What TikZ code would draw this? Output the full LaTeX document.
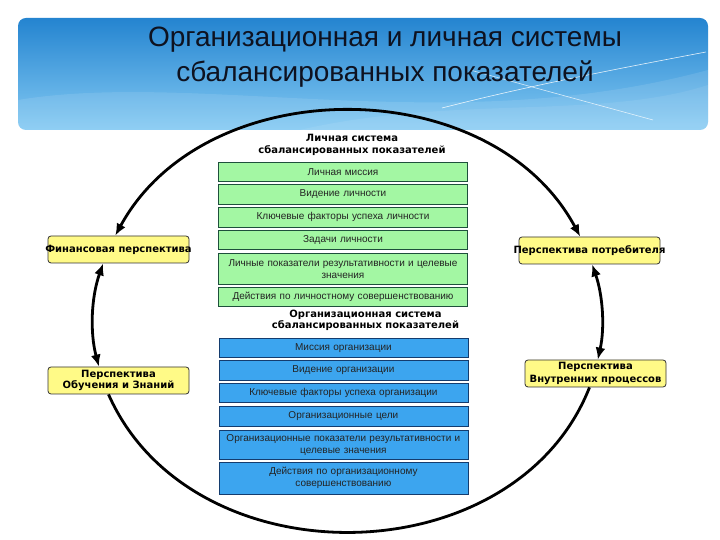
\documentclass[tikz,border=0pt]{standalone}
\usepackage{fontspec}
\setmainfont{Liberation Sans}
\newfontfamily\labfont{DejaVu Sans}
\usetikzlibrary{arrows.meta}
\definecolor{pgreen}{RGB}{163,247,163}
\definecolor{pgreenD}{RGB}{30,80,60}
\definecolor{oblue}{RGB}{60,165,239}
\definecolor{oblueD}{RGB}{20,60,110}
\definecolor{yel}{RGB}{255,250,135}
\definecolor{bantop}{RGB}{36,132,208}
\definecolor{banbot}{RGB}{132,202,243}
\definecolor{titlecol}{RGB}{14,18,32}
\definecolor{boxtext}{RGB}{35,35,35}
\begin{document}
\begin{tikzpicture}[x=1pt,y=1pt,
  cbox/.style={line width=0.8pt, inner xsep=4.5pt, inner ysep=0pt, text width=240pt, align=center,
    font=\fontsize{10}{12}\selectfont, text=boxtext},
  pbox/.style={cbox, draw=pgreenD, fill=pgreen},
  obox/.style={cbox, draw=oblueD, fill=oblue},
  ybox/.style={draw=black!80, fill=yel, rounded corners=3pt, line width=0.8pt, minimum width=141pt,
    minimum height=27pt, inner sep=0pt, align=center, font=\labfont\bfseries\fontsize{10}{11.5}\selectfont},
  head/.style={inner sep=0pt, align=center, font=\labfont\bfseries\fontsize{10}{12}\selectfont},
  conn/.style={line width=2.8pt, black, {Latex[length=12pt,width=10pt]}-{Latex[length=12pt,width=10pt]}},
  plainconn/.style={line width=2.8pt, black}
]
\useasboundingbox (0,0) rectangle (720,540);
\fill[white] (0,0) rectangle (720,540);
% banner
\shade[top color=bantop, bottom color=banbot, rounded corners=8pt] (18,410) rectangle (708,522);
\begin{scope}
\clip[rounded corners=8pt] (18,410) rectangle (708,522);
\fill[white, opacity=0.10] (18,440) .. controls (200,470) and (450,400) .. (708,470) -- (708,410) -- (18,410) -- cycle;
\fill[white, opacity=0.08] (300,410) .. controls (450,445) and (600,420) .. (708,455) -- (708,410) -- cycle;
\draw[white, line width=0.6pt, opacity=0.85] (442,432) .. controls (520,452) and (600,468) .. (706,488);
\draw[white, line width=0.6pt, opacity=0.75] (470,470) -- (653,420);
\end{scope}
\node[inner sep=0pt, align=center, text=titlecol, font=\fontsize{28}{35}\selectfont] (title) at (385,482.5)
  {Организационная и личная системы\\сбалансированных показателей};
% personal system
\node[head] (phead) at (352,395.5) {Личная система\\сбалансированных показателей};
\node[pbox, minimum height=19pt] (p1) at (343,367.8) {Личная миссия};
\node[pbox, minimum height=20pt] (p2) at (343,345.7) {Видение личности};
\node[pbox, minimum height=20pt] (p3) at (343,322.7) {Ключевые факторы успеха личности};
\node[pbox, minimum height=19pt] (p4) at (343,300.2) {Задачи личности};
\node[pbox, minimum height=31pt] (p5) at (343,271.2) {Личные показатели результативности и целевые\\значения};
\node[pbox, minimum height=19.4pt] (p6) at (343,243) {Действия по личностному совершенствованию};
% organisational system
\node[head, font=\labfont\bfseries\fontsize{10}{11}\selectfont] (ohead) at (365.5,219.5) {Организационная система\\сбалансированных показателей};
\node[obox, minimum height=19pt] (o1) at (343.4,192.2) {Миссия организации};
\node[obox, minimum height=19.3pt] (o2) at (343.4,169.65) {Видение организации};
\node[obox, minimum height=19.4pt] (o3) at (343.4,147) {Ключевые факторы успеха организации};
\node[obox, minimum height=19.3pt] (o4) at (343.4,123.65) {Организационные цели};
\node[obox, minimum height=29.3pt] (o5) at (343.4,95.35) {Организационные показатели результативности и\\целевые значения};
\node[obox, minimum height=32pt] (o6) at (343.4,61.7) {Действия по организационному\\совершенствованию};
% perspectives
\node[ybox] (fin) at (118.5,290.5) {\makebox[130pt]{Финансовая перспектива}};
\node[ybox] (learn) at (118.5,159.5) {Перспектива\\Обучения и Знаний};
\node[ybox] (cons) at (589.5,289.5) {\makebox[130pt]{Перспектива потребителя}};
\node[ybox, font=\labfont\bfseries\fontsize{10}{13}\selectfont] (proc) at (595.5,166.5) {Перспектива\\Внутренних процессов};
% connectors (elliptic ring)
\draw[conn] ([xshift=-3.2pt]fin.north) .. controls +(90.1,165.6) and +(-89.1,166.0) .. ([xshift=-9.3pt]cons.north);
\draw[conn] ([xshift=-15.3pt]fin.south) .. controls +(-12.0,-33.8) and +(-9.1,34.4) .. ([xshift=-19.6pt]learn.north);
\draw[conn] ([xshift=2.6pt]cons.south) .. controls +(10.8,-31.1) and +(7.1,31.9) .. ([xshift=2.3pt]proc.north);
\draw[plainconn] ([xshift=-10pt]learn.south) .. controls +(83.0,-187.5) and +(-74.9,-189.9) .. ([xshift=-6pt]proc.south);
\end{tikzpicture}
\end{document}
